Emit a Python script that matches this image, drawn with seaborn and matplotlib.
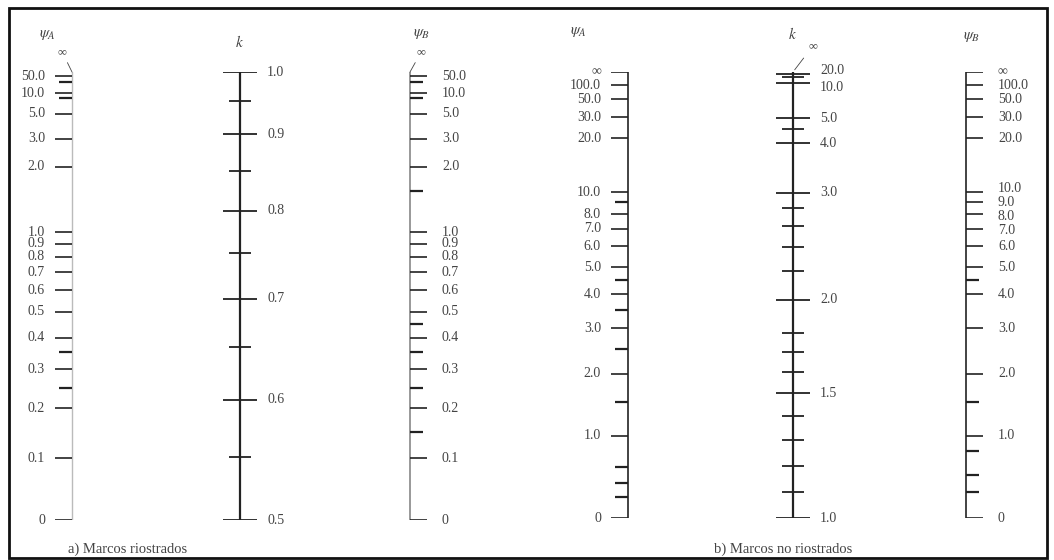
import numpy as np
import matplotlib
matplotlib.use("Agg")
import matplotlib.pyplot as plt
from matplotlib.patches import Rectangle
import seaborn as sns

# ---- values ----
# a) braced frames
psi_braced_major = [0, 0.1, 0.2, 0.3, 0.4, 0.5, 0.6, 0.7, 0.8, 0.9, 1.0, 2.0, 3.0, 5.0, 10.0, 50.0]
psiA_braced_minor = [0.25, 0.35, 8.0, 20.0]
psiB_braced_minor = [0.15, 0.25, 0.35, 0.45, 1.5, 8.0, 20.0]
k_braced_major = [0.5, 0.6, 0.7, 0.8, 0.9, 1.0]
k_braced_minor = [0.55, 0.65, 0.75, 0.85, 0.95]

# b) unbraced frames
psiA_sway_major = [0, 1.0, 2.0, 3.0, 4.0, 5.0, 6.0, 7.0, 8.0, 10.0, 20.0, 30.0, 50.0, 100.0]
psiA_sway_minor = [0.25, 0.4, 0.6, 1.5, 2.5, 3.5, 4.5, 9.0]
psiB_sway_major = [0, 1.0, 2.0, 3.0, 4.0, 5.0, 6.0, 7.0, 8.0, 9.0, 10.0, 20.0, 30.0, 50.0, 100.0]
psiB_sway_minor = [0.3, 0.5, 0.8, 1.5, 4.5]
k_sway_major = [1.0, 1.5, 2.0, 3.0, 4.0, 5.0, 10.0, 20.0]
k_sway_minor = [1.1, 1.2, 1.3, 1.4, 1.6, 1.7, 1.8, 2.2, 2.4, 2.6, 2.8, 4.5, 15.0]

captions = ["a) Marcos riostrados", "b) Marcos no riostrados"]

W, H = 1054, 560
LINE = "#222222"
TXT = "#444444"
FS = 10

sns.set_theme(style="white")
plt.rcParams["font.family"] = ["Liberation Serif", "DejaVu Serif"]
plt.rcParams["mathtext.fontset"] = "stix"


def fmt(v):
    return "0" if v == 0 else f"{v:.1f}"


# psi scale of the nomograph: position ~ psi^p / (psi^p + c)
def psi_scale(p, c):
    def fwd(g):
        g = np.clip(np.asarray(g, float), 0, None) ** p
        return g / (g + c)

    def inv(f):
        f = np.clip(np.asarray(f, float), 0, 1 - 1e-12)
        return (c * f / (1 - f)) ** (1 / p)
    return fwd, inv


# psi_A = psi_B = psi giving k (braced / sway equations)
def g_braced(k):
    x = np.pi / k
    a = x ** 2 / 4
    b = 1 - x / np.tan(x)
    c = 2 * np.tan(x / 2) / x - 1
    d = np.sqrt(b ** 2 - 4 * a * c)
    return np.where(b < 0, (-b + d) / (2 * a), -2 * c / (b + d))


def g_sway(k):
    x = np.pi / k
    t = x / np.tan(x)
    return 6 / (np.sqrt(t ** 2 + x ** 2) - t)


def k_scale(gfun, gfwd, ks, kmin, kmax):
    fs = gfwd(gfun(ks))
    ks = np.r_[kmin, ks, kmax]
    fs = np.maximum.accumulate(np.r_[0.0, fs, 1.0])
    return (lambda k: np.interp(k, ks, fs)), (lambda f: np.interp(f, fs, ks))


fig = plt.figure(figsize=(W / 100, H / 100), dpi=100)


def panel(x0, x1, ytop, ybot, psi_fn, k_fn, kmin, kmax):
    ax = fig.add_axes([x0 / W, 1 - ybot / H, (x1 - x0) / W, (ybot - ytop) / H])
    ax.set_yscale("function", functions=psi_fn)
    ax.set_ylim(0, 1e12)
    ax.set_xlim(x0, x1)
    axk = ax.twinx()
    axk.set_yscale("function", functions=k_fn)
    axk.set_ylim(kmin, kmax)
    for a in (ax, axk):
        a.set_xticks([])
        a.set_yticks([])
        a.patch.set_alpha(0)
        sns.despine(ax=a, left=True, bottom=True, right=True, top=True)
        a.grid(False)
    return ax, axk


def psi_column(ax, x, major, minor, side, inf_label, line_color=LINE, line_w=1.2, nudge=None):
    nudge = nudge or {}
    ax.axvline(x, color=line_color, lw=line_w)
    s = -1 if side == "left" else 1
    ax.hlines(major, min(x, x + s * 17), max(x, x + s * 17), color=LINE, lw=1.2)
    ax.hlines(minor, min(x, x + s * 13), max(x, x + s * 13), color=LINE, lw=1.6)
    lx = x + s * 27 if side == "left" else x + s * 32
    ha = "right" if side == "left" else "left"
    for v in major:
        ax.annotate(fmt(v), xy=(lx, v), xytext=(0, nudge.get(v, 0)),
                    textcoords="offset points", ha=ha, va="center",
                    fontsize=FS, color=TXT)
    if inf_label:
        ax.hlines([1e12], min(x, x + s * 17), max(x, x + s * 17), color=LINE, lw=1.2)
        ax.text(lx, 1e12, "∞", ha=ha, va="center", fontsize=FS, color=TXT)
    else:
        ax.annotate("∞", xy=(x, 1.0), xycoords=("data", "axes fraction"),
                    xytext=(-7 if side == "left" else 8, 10), textcoords="offset points",
                    ha="center", va="bottom", fontsize=9, color=TXT,
                    arrowprops=dict(arrowstyle="-", lw=0.6, color=TXT, shrinkA=1, shrinkB=0))


def k_column(ax, x, major, minor, inf_leader, nudge=None):
    nudge = nudge or {}
    ax.axvline(x, color=LINE, lw=1.6)
    ax.hlines(major, x - 17, x + 17, color=LINE, lw=1.3)
    ax.hlines(minor, x - 11, x + 11, color=LINE, lw=1.3)
    for v in major:
        ax.annotate(fmt(v), xy=(x + 27, v), xytext=(0, nudge.get(v, 0)),
                    textcoords="offset points", ha="left", va="center",
                    fontsize=FS, color=TXT)
    if inf_leader:
        ax.annotate("∞", xy=(x, 1.0), xycoords=("data", "axes fraction"),
                    xytext=(14, 14), textcoords="offset points",
                    ha="center", va="bottom", fontsize=9, color=TXT,
                    arrowprops=dict(arrowstyle="-", lw=0.6, color=TXT))


# a) braced frames
fa = psi_scale(1.05, 0.556)
ka = k_scale(g_braced, fa[0], np.linspace(0.5, 1.0, 6001)[1:-1], 0.5, 1.0)
ax_a, axk_a = panel(0, 527, 72, 520, fa, ka, 0.5, 1.0)
psi_column(ax_a, 72, psi_braced_major, psiA_braced_minor, "left", False,
           line_color="#bbbbbb", line_w=1.0)
k_column(axk_a, 240, k_braced_major, k_braced_minor, False)
psi_column(ax_a, 410, psi_braced_major, psiB_braced_minor, "right", False,
           line_color="#888888", line_w=1.2)

# b) unbraced frames
fb = psi_scale(1.08, 4.43)
kb = k_scale(g_sway, fb[0], np.geomspace(1.0, 1e5, 20001)[1:-1], 1.0, 1e5)
ax_b, axk_b = panel(527, 1054, 72, 518, fb, kb, 1.0, 1e5)
psi_column(ax_b, 628, psiA_sway_major, psiA_sway_minor, "left", True)
k_column(axk_b, 793, k_sway_major, k_sway_minor, True, nudge={20.0: 3, 10.0: -3})
psi_column(ax_b, 966, psiB_sway_major, psiB_sway_minor, "right", True,
           nudge={10.0: 2.5, 8.0: -1.5, 7.0: -1.0})

# column headers
heads = [(47, 35, r"$\psi_A$"), (240, 42, r"$k$"), (422, 34, r"$\psi_B$"),
         (578, 32, r"$\psi_A$"), (793, 34, r"$k$"), (972, 37, r"$\psi_B$")]
for hx, hy, t in heads:
    fig.text(hx / W, 1 - hy / H, t, ha="center", va="center", fontsize=11, color=TXT)

fig.text(128 / W, 1 - 549 / H, captions[0], ha="center", va="center", fontsize=10.5, color=TXT)
fig.text(783 / W, 1 - 549 / H, captions[1], ha="center", va="center", fontsize=10.5, color=TXT)

fig.patches.append(Rectangle((9 / W, 1 - 558 / H), 1038 / W, 550 / H, transform=fig.transFigure,
                             fill=False, lw=2, edgecolor="#111111"))

fig.savefig("out.png", dpi=100, facecolor="white")
